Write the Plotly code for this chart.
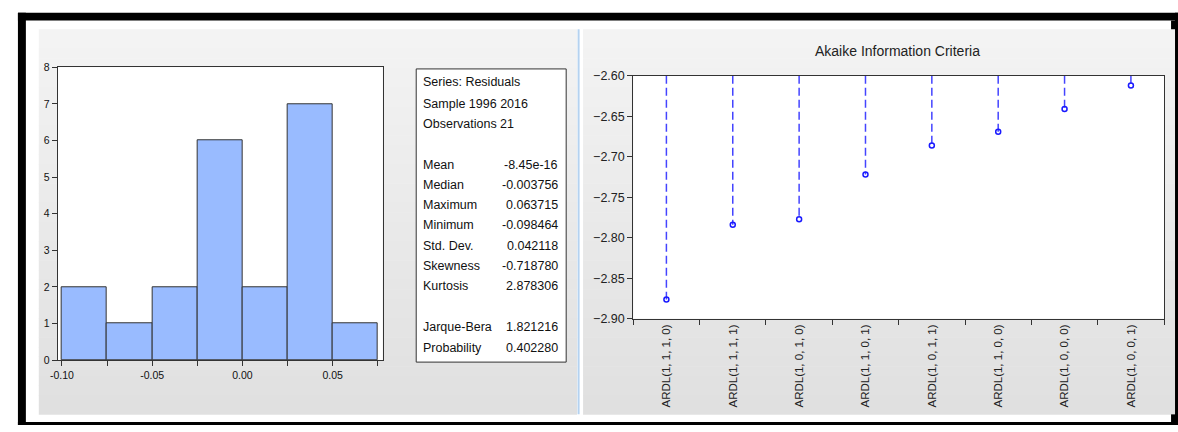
import plotly.graph_objects as go

# ---- residual histogram ----
bin_edges = [-0.100, -0.075, -0.050, -0.025, 0.000, 0.025, 0.050, 0.075]
bin_counts = [2, 1, 2, 6, 2, 7, 1]
hist_tickvals = [-0.100, -0.075, -0.050, -0.025, 0.000, 0.025, 0.050, 0.075]
hist_ticktext = ["-0.10", "", "-0.05", "", "0.00", "", "0.05", ""]

# ---- descriptive statistics ----
header_lines = ["Series: Residuals", "Sample 1996 2016", "Observations 21"]
stat_names = ["Mean", "Median", "Maximum", "Minimum", "Std. Dev.", "Skewness", "Kurtosis"]
stat_values = ["-8.45e-16", "-0.003756", "0.063715", "-0.098464", "0.042118", "-0.718780", "2.878306"]
test_names = ["Jarque-Bera", "Probability"]
test_values = ["1.821216", "0.402280"]

# ---- Akaike information criteria by model ----
models = ["ARDL(1, 1, 1, 0)", "ARDL(1, 1, 1, 1)", "ARDL(1, 0, 1, 0)", "ARDL(1, 1, 0, 1)",
          "ARDL(1, 0, 1, 1)", "ARDL(1, 1, 0, 0)", "ARDL(1, 0, 0, 0)", "ARDL(1, 0, 0, 1)"]
aic_values = [-2.876, -2.784, -2.777, -2.722, -2.686, -2.669, -2.641, -2.612]
aic_top = -2.60

W, H = 1178, 432
NARROW = "Liberation Sans Narrow, Arial Narrow, Liberation Sans, sans-serif"
ARIAL = "Liberation Sans, Arial, sans-serif"


def fx(x):
    return x / W


def fy(y):
    return 1 - y / H


fig = go.Figure()

# histogram bars
centers = [(a + b) / 2 for a, b in zip(bin_edges[:-1], bin_edges[1:])]
widths = [b - a for a, b in zip(bin_edges[:-1], bin_edges[1:])]
fig.add_trace(go.Bar(
    x=centers, y=bin_counts, width=widths,
    marker=dict(color="#99bbff", line=dict(color="#333333", width=1)),
    xaxis="x", yaxis="y", showlegend=False, hoverinfo="skip",
))

# AIC drop lines from the top of the axis
for m, v in zip(models, aic_values):
    fig.add_trace(go.Scatter(
        x=[m, m], y=[aic_top, v], mode="lines",
        line=dict(color="#4444ff", width=1.5, dash="8px,4px"),
        xaxis="x2", yaxis="y2", showlegend=False, hoverinfo="skip",
    ))
fig.add_trace(go.Scatter(
    x=models, y=aic_values, mode="markers",
    marker=dict(symbol="circle-open", size=5, color="#1a1aff", line=dict(width=1.5)),
    xaxis="x2", yaxis="y2", showlegend=False,
))

shapes = []


def rect(x0, y0, x1, y1, color, line=None):
    d = dict(type="rect", xref="paper", yref="paper",
             x0=fx(x0), x1=fx(x1), y0=fy(y1), y1=fy(y0),
             fillcolor=color, layer="below")
    d["line"] = line if line else dict(width=0)
    shapes.append(d)


# panel backgrounds with a soft vertical gradient
top_c = (0xF3, 0xF3, 0xF3)
bot_c = (0xE0, 0xE0, 0xE0)
y_start, y_end, n = 23, 421, 40
for i in range(n):
    t = i / (n - 1)
    c = tuple(round(top_c[k] + (bot_c[k] - top_c[k]) * t) for k in range(3))
    col = "rgb(%d,%d,%d)" % c
    ya = y_start + (y_end - y_start) * i / n
    yb = y_start + (y_end - y_start) * (i + 1) / n + 0.5
    rect(31, ya, 573, yb, col)
    rect(579, ya, 1175, yb, col)

# separator between the two panels
rect(573.5, 23, 575.5, 421, "#b4d2f0")

# plot areas
rect(50, 62.3, 377.3, 365, "white")
rect(629.5, 71, 1164, 322.3, "white")

# statistics box
rect(411, 64, 562, 367, "white", dict(color="#333333", width=1))

# outer black frame
rect(10, 6, 1178, 14, "black")
rect(10, 6, 18, 432, "black")
rect(10, 429, 1178, 432, "black")
rect(1175, 6, 1178, 432, "black")
rect(1171, 14, 1178, 23, "black")
rect(1171, 421, 1178, 432, "black")

annotations = []

# statistics text
line_ys = [77, 100, 121]
for txt, y in zip(header_lines, line_ys):
    annotations.append(dict(x=fx(416), y=fy(y), text=txt, xanchor="left", yanchor="middle"))
for i, (nm, val) in enumerate(zip(stat_names, stat_values)):
    y = 163 + i * 20.9
    annotations.append(dict(x=fx(416), y=fy(y), text=nm, xanchor="left", yanchor="middle"))
    annotations.append(dict(x=fx(556), y=fy(y), text=val, xanchor="right", yanchor="middle"))
for i, (nm, val) in enumerate(zip(test_names, test_values)):
    y = 331 + i * 21
    annotations.append(dict(x=fx(416), y=fy(y), text=nm, xanchor="left", yanchor="middle"))
    annotations.append(dict(x=fx(556), y=fy(y), text=val, xanchor="right", yanchor="middle"))
for a in annotations:
    a.update(xref="paper", yref="paper", showarrow=False,
             font=dict(family=NARROW, size=12.5, color="#111111"))

annotations.append(dict(
    x=fx(896), y=fy(45), xref="paper", yref="paper", showarrow=False,
    text="Akaike Information Criteria", xanchor="center", yanchor="middle",
    font=dict(family=ARIAL, size=14, color="#222222"),
))

axis_common = dict(showline=True, linecolor="#333333", linewidth=1, mirror=True,
                   showgrid=False, zeroline=False, ticks="outside",
                   tickcolor="#333333", ticklen=5, tickwidth=1)

fig.update_layout(
    width=W, height=H,
    margin=dict(l=0, r=0, t=0, b=0),
    paper_bgcolor="white",
    plot_bgcolor="rgba(0,0,0,0)",
    bargap=0,
    shapes=shapes,
    annotations=annotations,
    xaxis=dict(domain=[fx(50), fx(377.3)], range=[-0.10237, 0.07775],
               tickvals=hist_tickvals, ticktext=hist_ticktext,
               tickfont=dict(family=NARROW, size=10.5, color="#111111"),
               anchor="y", **axis_common),
    yaxis=dict(domain=[fy(365), fy(62.3)], range=[0, 8], dtick=1,
               tickfont=dict(family=NARROW, size=10.5, color="#111111"),
               anchor="x", **axis_common),
    xaxis2=dict(domain=[fx(629.5), fx(1164)], type="category",
                categoryorder="array", categoryarray=models,
                range=[-0.5, len(models) - 0.5], tickson="boundaries",
                tickangle=-90,
                tickfont=dict(family=ARIAL, size=11.5, color="#222222"),
                anchor="y2", **axis_common),
    yaxis2=dict(domain=[fy(322.3), fy(71)], range=[-2.90, -2.60], dtick=0.05,
                tickformat=".2f",
                tickfont=dict(family=ARIAL, size=12.5, color="#222222"),
                anchor="x2", **axis_common),
)

fig.write_html("out.html")
